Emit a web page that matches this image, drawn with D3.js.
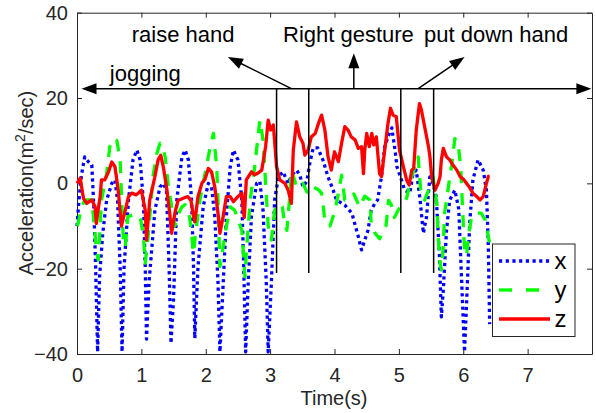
<!DOCTYPE html>
<html>
<head>
<meta charset="utf-8">
<style>
  body { margin: 0; background: #fff; }
  svg text { font-family: "Liberation Sans", Arial, Helvetica, sans-serif; fill: #262626; }
  .axis path, .axis line { stroke: #262626; stroke-width: 1; }
  .axis text { font-size: 20px; }
  .series { fill: none; stroke-linejoin: round; }
  .anno { stroke: #000; stroke-width: 1.5; fill: none; }
</style>
</head>
<body>
<svg id="chart" width="596" height="413"></svg>
<script src="https://cdn.jsdelivr.net/npm/d3@7/dist/d3.min.js"></script>
<script>
// acceleration samples: [time (s), value]
var accX = [
  [0,-10],[0.03,-4],[0.07,2],[0.12,6.2],[0.18,5],[0.23,4.3],[0.26,-5],[0.29,-20],[0.32,-39.5],
  [0.35,-22],[0.4,-11.7],[0.46,-4],[0.54,0],[0.59,0.8],[0.63,-4],[0.67,-19.5],[0.70,-39.5],
  [0.73,-20],[0.8,-3.9],[0.87,5.5],[0.93,7.8],[0.98,5.5],[1.03,-3.9],[1.06,-19.5],[1.08,-36.5],
  [1.12,-23],[1.21,-6.3],[1.29,-0.8],[1.34,0],[1.39,-1.6],[1.43,-19.5],[1.46,-37.5],[1.5,-27],
  [1.55,-3.9],[1.63,6.2],[1.68,7.8],[1.73,5.5],[1.78,-3.9],[1.81,-19.5],[1.83,-36.3],[1.88,-19.5],
  [1.96,-5.5],[2.04,0],[2.09,-0.8],[2.14,-7.8],[2.19,-23],[2.22,-39.5],[2.26,-27],[2.32,-7.8],
  [2.38,3.9],[2.43,7.8],[2.5,5.5],[2.56,-3.9],[2.59,-19.5],[2.62,-39.5],[2.66,-23],[2.71,-7.8],
  [2.79,0],[2.84,0.5],[2.89,-6.3],[2.94,-23],[2.97,-39.5],[3.02,-23],[3.07,-3.9],[3.13,1.6],
  [3.2,2.7],[3.28,0],[3.34,2],[3.41,3.1],[3.46,2],[3.51,-0.8],[3.57,0.5],[3.62,5],[3.67,8.3],
  [3.74,8.3],[3.82,5.5],[3.9,1.5],[3.98,-1.6],[4.03,-3.9],[4.16,-5.1],[4.27,-7],[4.37,-12.5],
  [4.42,-15.6],[4.47,-13.3],[4.52,-11],[4.57,-6.3],[4.63,-4.6],[4.67,-3.9],[4.73,1.6],[4.78,8.6],
  [4.83,10.9],[4.89,13],[4.94,7.8],[4.97,3.9],[5.04,0.8],[5.09,-1.6],[5.17,-2.3],[5.22,2.3],
  [5.27,3.1],[5.33,-3.9],[5.38,-11.7],[5.43,-7.8],[5.48,1.5],[5.53,0],[5.58,-3.1],[5.63,-17],
  [5.66,-31.3],[5.69,-25],[5.74,-11],[5.79,-3.9],[5.87,-1.6],[5.93,-6],[5.97,-21],[6.02,-39.5],
  [6.06,-25],[6.1,-9.4],[6.15,0.8],[6.23,5.5],[6.31,3.1],[6.36,-1.6],[6.39,-15],[6.41,-33]
];
var accY = [
  [0,-10],[0.02,-9.3],[0.05,-7],[0.1,-4.5],[0.15,-3.9],[0.23,-3.9],[0.27,-10],[0.3,-15.6],[0.33,-18],
  [0.36,-10],[0.38,-4],[0.46,2.3],[0.51,8.6],[0.57,10.5],[0.62,10],[0.67,5.5],[0.69,-2.3],[0.72,-13.3],
  [0.75,-15],[0.79,-7.8],[0.87,-7.4],[0.98,-7.8],[1.03,-12],[1.06,-18.7],[1.11,-11.7],[1.18,1.6],
  [1.24,7],[1.29,9.4],[1.33,8.5],[1.37,6.2],[1.42,-0.8],[1.52,-10],[1.58,-7],[1.63,-5.5],[1.68,-5],
  [1.75,-8],[1.81,-16.4],[1.84,-12],[1.91,-3.9],[1.99,2.3],[2.07,8.6],[2.12,11.7],[2.17,3.9],
  [2.19,-3.9],[2.22,-19.5],[2.25,-17],[2.3,-11.7],[2.38,-5.5],[2.45,-6.3],[2.56,-11],[2.61,-21.9],
  [2.63,-16.4],[2.69,-3.9],[2.76,3.9],[2.84,14.8],[2.89,10.2],[2.93,0],[2.97,-10],[3.02,-13.3],
  [3.07,-6.3],[3.15,-4.7],[3.19,-5.5],[3.23,-10],[3.26,-11],[3.3,-4],[3.33,3.1],[3.38,0.8],
  [3.41,-1],[3.51,0],[3.57,-2],[3.62,-2.3],[3.67,-0.8],[3.75,-1.5],[3.8,-2.3],[3.85,-8.6],
  [3.93,-10],[4.01,-6.3],[4.05,-3.1],[4.11,1.9],[4.16,-3.9],[4.21,-3.9],[4.3,-2.5],[4.39,-5.5],
  [4.47,-3],[4.55,-3.9],[4.57,-9.4],[4.63,-11.7],[4.7,-13],[4.8,-10],[4.84,-4],[4.88,-5],
  [4.93,-8],[5.0,-6],[5.07,-4.6],[5.12,-3.5],[5.17,0],[5.25,3.9],[5.3,6.2],[5.33,0],
  [5.35,-3.1],[5.4,-3.9],[5.46,-1.6],[5.53,1.6],[5.59,-4.7],[5.61,-12.5],[5.64,-18.7],[5.66,-20.3],
  [5.69,-14.8],[5.71,-7],[5.77,-0.8],[5.82,4.3],[5.87,10.5],[5.92,9.4],[5.96,3.9],[6.0,-9.4],
  [6.02,-15.6],[6.05,-17],[6.08,-12.5],[6.13,-7.8],[6.21,-7],[6.28,-7],[6.34,-8.6],[6.39,-12.5],[6.41,-14]
];
var accZ = [
  [0,0],[0.05,1.2],[0.1,-3.5],[0.15,-4.7],[0.23,-3.9],[0.28,-5.5],[0.3,-9.4],[0.33,-6],[0.36,-3.1],
  [0.38,0.8],[0.43,0.8],[0.49,2.7],[0.54,5],[0.59,3.9],[0.64,-1.6],[0.69,-10],[0.75,-6.3],[0.8,-3.1],
  [0.85,-2.3],[0.92,-2.7],[1.0,-1.6],[1.06,-6.3],[1.08,-13.3],[1.13,-3.9],[1.21,1.6],[1.26,5.5],
  [1.3,6.6],[1.34,3.9],[1.39,-0.8],[1.44,-7],[1.47,-11.7],[1.52,-7],[1.57,-4],[1.65,-3.5],[1.72,-3.1],
  [1.77,-4],[1.81,-7.8],[1.83,-9],[1.88,-3.1],[1.94,0],[1.99,1],[2.04,3.5],[2.09,2.7],[2.14,-0.8],
  [2.19,-7],[2.22,-11.7],[2.27,-7.8],[2.32,-3.1],[2.38,-3.1],[2.43,-4.3],[2.5,-3.1],[2.56,-2.3],
  [2.58,-6.3],[2.6,-8],[2.63,0.8],[2.71,2.7],[2.76,2],[2.82,2.5],[2.87,3.1],[2.93,8.6],[2.97,14.8],
  [3.01,12.5],[3.05,13.7],[3.1,3.9],[3.15,0.8],[3.23,0],[3.28,-1.6],[3.33,-4.7],[3.36,7.8],[3.41,14.4],
  [3.46,10.9],[3.51,9.4],[3.54,6.6],[3.59,7.8],[3.64,10.9],[3.7,11.7],[3.75,14],[3.8,16],[3.85,12.5],
  [3.9,6.2],[3.95,3.1],[4.0,7.4],[4.06,5.1],[4.11,9.4],[4.16,13.3],[4.21,12.5],[4.26,10.9],[4.32,10.2],
  [4.37,8.2],[4.42,8.6],[4.45,2.3],[4.47,7.8],[4.5,11.7],[4.54,8.6],[4.58,11.7],[4.61,9],[4.65,10.9],
  [4.7,2.3],[4.73,1.6],[4.78,7.8],[4.83,14],[4.87,17.6],[4.91,16],[4.96,15.6],[5.01,7.8],[5.07,3.9],
  [5.12,0.8],[5.16,-0.4],[5.2,3.1],[5.23,3.5],[5.27,12.5],[5.32,18.7],[5.35,17.2],[5.4,13.3],
  [5.46,8.6],[5.48,6.6],[5.51,1.6],[5.56,-1.6],[5.61,0],[5.64,1.6],[5.66,5.5],[5.69,8.2],[5.74,6.2],
  [5.79,5.5],[5.84,4.3],[5.9,3.1],[5.95,1.6],[6.0,1],[6.05,0],[6.1,-1],[6.15,-2.3],[6.21,-3.1],
  [6.26,-3.9],[6.31,-3.1],[6.36,0],[6.39,1.6],[6.41,1.6]
];

var seriesNames = ['x', 'y', 'z'];
var xTicks = [0, 1, 2, 3, 4, 5, 6, 7];
var yTicks = [-40, -20, 0, 20, 40];

// phase boundaries (s) and annotation text, in data units
var phaseTimes = [3.10, 3.60, 5.03, 5.54];
var phaseBottom = -21;
var spanLevel = 22.2;
var spanRange = [0.07, 7.99];
var labels = [
  {text: 'jogging', t: 0.51, v: 24},
  {text: 'raise hand', t: 0.85, v: 33.2},
  {text: 'Right gesture', t: 3.2, v: 33.2},
  {text: 'put down hand', t: 5.39, v: 33.2}
];
// pointer arrows: from the span line to the label
var pointers = [
  [3.33, 22.2, 2.345, 29.6],
  [4.30, 22.2, 4.30, 30.5],
  [5.30, 22.2, 6.02, 29.6]
];

var svg = d3.select('#chart');
var x = d3.scaleLinear().domain([0, 8]).range([77, 592]);
var y = d3.scaleLinear().domain([-40, 40]).range([354, 12.7]);

var styles = [
  {color: '#0000ff', dash: '3.2,3.5'},
  {color: '#00ff00', dash: '12,10'},
  {color: '#ff0000', dash: null}
];

// axes box with inward ticks on all sides
svg.append('g').attr('class', 'axis')
  .attr('transform', 'translate(0,354)')
  .call(d3.axisBottom(x).tickValues(xTicks).tickSizeInner(-5).tickSizeOuter(0).tickPadding(14));
svg.append('g').attr('class', 'axis')
  .attr('transform', 'translate(0,12.7)')
  .call(d3.axisTop(x).tickValues(xTicks).tickSizeInner(-5).tickSizeOuter(0).tickFormat(''));
svg.append('g').attr('class', 'axis')
  .attr('transform', 'translate(77,0)')
  .call(d3.axisLeft(y).tickValues(yTicks).tickSizeInner(-5).tickSizeOuter(0).tickPadding(9));
svg.append('g').attr('class', 'axis')
  .attr('transform', 'translate(592,0)')
  .call(d3.axisRight(y).tickValues(yTicks).tickSizeInner(-5).tickSizeOuter(0).tickFormat(''));
svg.selectAll('.axis .domain').attr('stroke', '#262626');
svg.selectAll('.axis text').attr('fill', '#262626');

// axis titles
svg.append('text')
  .attr('x', 334).attr('y', 405)
  .attr('text-anchor', 'middle')
  .style('font-size', '20px')
  .text('Time(s)');

var ylab = svg.append('text')
  .attr('transform', 'translate(33,183) rotate(-90)')
  .attr('text-anchor', 'middle')
  .style('font-size', '20px');
ylab.append('tspan').text('Acceleration(m');
ylab.append('tspan').attr('dy', '-8').style('font-size', '14px').text('2');
ylab.append('tspan').attr('dy', '8').text('/sec)');

// data lines
var line = d3.line().x(function(d) { return x(d[0]); }).y(function(d) { return y(d[1]); });
[accX, accY, accZ].forEach(function(data, i) {
  svg.append('path')
    .datum(data)
    .attr('class', 'series')
    .attr('d', line)
    .attr('stroke', styles[i].color)
    .attr('stroke-width', 3.3)
    .attr('stroke-dasharray', styles[i].dash);
});

// annotations
function arrowHead(x1, y1, x2, y2) {
  var a = Math.atan2(y2 - y1, x2 - x1), len = 15, w = 5.5;
  var bx = x2 - len * Math.cos(a), by = y2 - len * Math.sin(a);
  var px = -Math.sin(a) * w, py = Math.cos(a) * w;
  svg.append('path')
    .attr('d', 'M' + x2 + ',' + y2 + 'L' + (bx + px) + ',' + (by + py) + 'L' + (bx - px) + ',' + (by - py) + 'Z')
    .attr('fill', '#000');
}

svg.selectAll('.phase')
  .data(phaseTimes)
  .enter().append('line')
  .attr('class', 'anno')
  .attr('x1', function(d) { return x(d); })
  .attr('x2', function(d) { return x(d); })
  .attr('y1', y(spanLevel))
  .attr('y2', y(phaseBottom));

svg.append('line').attr('class', 'anno')
  .attr('x1', x(spanRange[0]) + 10).attr('x2', x(spanRange[1]) - 10)
  .attr('y1', y(spanLevel)).attr('y2', y(spanLevel));
arrowHead(x(spanRange[1]), y(spanLevel), x(spanRange[0]), y(spanLevel));
arrowHead(x(spanRange[0]), y(spanLevel), x(spanRange[1]), y(spanLevel));

pointers.forEach(function(p) {
  var x1 = x(p[0]), y1 = y(p[1]), x2 = x(p[2]), y2 = y(p[3]);
  var a = Math.atan2(y2 - y1, x2 - x1);
  svg.append('line').attr('class', 'anno')
    .attr('x1', x1).attr('y1', y1)
    .attr('x2', x2 - 10 * Math.cos(a)).attr('y2', y2 - 10 * Math.sin(a));
  arrowHead(x1, y1, x2, y2);
});

svg.selectAll('.label')
  .data(labels)
  .enter().append('text')
  .attr('x', function(d) { return x(d.t); })
  .attr('y', function(d) { return y(d.v); })
  .style('font-size', '22px')
  .style('fill', '#000')
  .text(function(d) { return d.text; });

// legend
var lg = svg.append('g').attr('transform', 'translate(492.5,244)');
lg.append('rect').attr('width', 82.5).attr('height', 92.5)
  .attr('fill', '#fff').attr('stroke', '#262626').attr('stroke-width', 1);
var rowY = [17, 46, 75];
seriesNames.forEach(function(name, i) {
  lg.append('line')
    .attr('x1', 6.5).attr('x2', 57.5)
    .attr('y1', rowY[i]).attr('y2', rowY[i])
    .attr('stroke', styles[i].color)
    .attr('stroke-width', 3.3)
    .attr('stroke-dasharray', i === 1 ? '13,14' : styles[i].dash);
  lg.append('text')
    .attr('x', 62).attr('y', rowY[i] + 8)
    .style('font-size', '24px')
    .style('fill', '#000')
    .text(name);
});
</script>
</body>
</html>
